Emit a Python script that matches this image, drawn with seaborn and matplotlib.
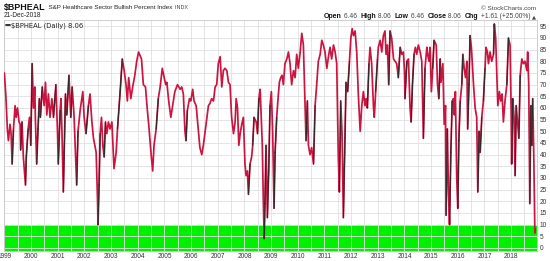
import numpy as np
import pandas as pd
import matplotlib
matplotlib.use("Agg")
import matplotlib.pyplot as plt
import seaborn as sns

# ---- data ----
years = [
    1999.00, 1999.06, 1999.11, 1999.15, 1999.21, 1999.25, 1999.29, 1999.34, 1999.40, 1999.44,
    1999.49, 1999.55, 1999.59, 1999.61, 1999.66, 1999.71, 1999.79, 1999.82, 1999.89, 1999.94,
    1999.99, 2000.04, 2000.09, 2000.14, 2000.16, 2000.21, 2000.26, 2000.31, 2000.35, 2000.42,
    2000.49, 2000.54, 2000.59, 2000.65, 2000.71, 2000.78, 2000.84, 2000.93, 2000.99, 2001.02,
    2001.09, 2001.12, 2001.16, 2001.21, 2001.29, 2001.34, 2001.42, 2001.49, 2001.54, 2001.61,
    2001.71, 2001.76, 2001.84, 2001.94, 2001.99, 2002.06, 2002.15, 2002.21, 2002.28, 2002.34,
    2002.44, 2002.49, 2002.51, 2002.55, 2002.59, 2002.64, 2002.69, 2002.74, 2002.79, 2002.84,
    2002.90, 2002.96, 2003.03, 2003.11, 2003.19, 2003.24, 2003.34, 2003.42, 2003.49, 2003.56,
    2003.61, 2003.66, 2003.74, 2003.81, 2003.89, 2003.96, 2004.03, 2004.14, 2004.21, 2004.29,
    2004.36, 2004.41, 2004.51, 2004.56, 2004.61, 2004.69, 2004.77, 2004.84, 2004.92, 2004.99,
    2005.05, 2005.09, 2005.16, 2005.24, 2005.31, 2005.39, 2005.49, 2005.59, 2005.65, 2005.71,
    2005.77, 2005.81, 2005.86, 2005.94, 2005.99, 2006.06, 2006.11, 2006.19, 2006.27, 2006.33,
    2006.40, 2006.46, 2006.56, 2006.65, 2006.71, 2006.77, 2006.84, 2006.90, 2006.96, 2007.02,
    2007.09, 2007.15, 2007.21, 2007.27, 2007.34, 2007.40, 2007.46, 2007.52, 2007.59, 2007.65,
    2007.69, 2007.74, 2007.79, 2007.84, 2007.90, 2007.96, 2008.02, 2008.06, 2008.11, 2008.15,
    2008.21, 2008.27, 2008.31, 2008.36, 2008.44, 2008.49, 2008.54, 2008.59, 2008.62, 2008.67,
    2008.71, 2008.74, 2008.77, 2008.81, 2008.86, 2008.91, 2008.96, 2009.01, 2009.06, 2009.11,
    2009.15, 2009.21, 2009.26, 2009.31, 2009.36, 2009.41, 2009.46, 2009.52, 2009.59, 2009.65,
    2009.71, 2009.77, 2009.84, 2009.90, 2009.96, 2010.02, 2010.09, 2010.15, 2010.21, 2010.27,
    2010.31, 2010.36, 2010.40, 2010.46, 2010.52, 2010.59, 2010.65, 2010.71, 2010.77, 2010.84,
    2010.90, 2010.96, 2011.02, 2011.09, 2011.15, 2011.21, 2011.27, 2011.34, 2011.40, 2011.46,
    2011.52, 2011.56, 2011.61, 2011.66, 2011.71, 2011.76, 2011.81, 2011.87, 2011.94, 2011.99,
    2012.04, 2012.09, 2012.15, 2012.21, 2012.27, 2012.34, 2012.40, 2012.46, 2012.52, 2012.56,
    2012.61, 2012.67, 2012.71, 2012.77, 2012.84, 2012.87, 2012.92, 2012.99, 2013.02, 2013.09,
    2013.15, 2013.21, 2013.27, 2013.31, 2013.36, 2013.41, 2013.46, 2013.52, 2013.59, 2013.65,
    2013.71, 2013.77, 2013.84, 2013.90, 2013.96, 2014.00, 2014.02, 2014.09, 2014.15, 2014.21,
    2014.25, 2014.30, 2014.36, 2014.41, 2014.46, 2014.52, 2014.59, 2014.65, 2014.71, 2014.77,
    2014.84, 2014.87, 2014.92, 2014.96, 2015.01, 2015.06, 2015.11, 2015.19, 2015.24, 2015.29,
    2015.34, 2015.37, 2015.44, 2015.49, 2015.54, 2015.56, 2015.61, 2015.65, 2015.69, 2015.74,
    2015.79, 2015.84, 2015.87, 2015.91, 2015.96, 2016.00, 2016.04, 2016.09, 2016.15, 2016.19,
    2016.24, 2016.29, 2016.34, 2016.37, 2016.42, 2016.46, 2016.51, 2016.59, 2016.65, 2016.71,
    2016.75, 2016.80, 2016.84, 2016.90, 2016.96, 2017.02, 2017.06, 2017.11, 2017.15, 2017.21,
    2017.27, 2017.34, 2017.37, 2017.42, 2017.46, 2017.50, 2017.56, 2017.61, 2017.66, 2017.71,
    2017.77, 2017.84, 2017.90, 2017.96, 2018.00, 2018.02, 2018.06, 2018.11, 2018.15, 2018.19,
    2018.24, 2018.29, 2018.34, 2018.40, 2018.46, 2018.52, 2018.59, 2018.62, 2018.66, 2018.70,
    2018.74, 2018.77, 2018.81, 2018.85, 2018.89, 2018.90,
]
bpi = [
    75, 64, 51, 46, 53, 49, 36, 51, 61, 56,
    60, 54, 53, 42, 54, 39, 27, 39, 51, 56,
    44, 79, 60, 69, 56, 36, 51, 64, 56, 69,
    61, 71, 57, 66, 56, 64, 56, 70, 50, 36,
    59, 64, 49, 24, 66, 57, 74, 56, 69, 57,
    27, 50, 59, 67, 56, 49, 61, 66, 54, 47,
    41, 21, 10, 27, 49, 56, 44, 39, 54, 49,
    54, 51, 54, 34, 41, 51, 67, 81, 76, 70,
    63, 73, 64, 69, 74, 80, 84, 81, 70, 69,
    59, 53, 39, 33, 44, 51, 64, 69, 77, 73,
    70, 71, 63, 56, 61, 67, 70, 68, 69, 66,
    50, 46, 59, 64, 63, 68, 63, 61, 51, 43,
    40, 44, 53, 61, 62, 64, 63, 69, 70, 79,
    82, 69, 76, 77, 76, 71, 70, 56, 49, 54,
    64, 60, 44, 49, 53, 56, 36, 31, 33, 23,
    36, 39, 44, 56, 54, 49, 64, 68, 59, 44,
    19, 4, 19, 44, 13, 33, 61, 67, 49, 17,
    41, 56, 64, 71, 73, 74, 70, 79, 81, 84,
    79, 70, 76, 73, 83, 77, 84, 92, 87, 63,
    46, 63, 44, 40, 43, 36, 61, 70, 80, 83,
    89, 87, 84, 77, 82, 86, 81, 87, 84, 79,
    39, 24, 63, 49, 13, 41, 71, 67, 80, 90,
    94, 91, 93, 84, 66, 50, 61, 67, 61, 64,
    60, 79, 86, 79, 60, 56, 67, 81, 86, 89,
    84, 91, 93, 83, 87, 70, 93, 90, 81, 80,
    79, 73, 86, 83, 84, 76, 64, 80, 81, 60,
    54, 70, 83, 86, 83, 87, 84, 80, 47, 77,
    86, 83, 80, 86, 67, 77, 89, 87, 70, 64,
    81, 71, 79, 53, 61, 14, 51, 24, 10, 41,
    63, 64, 57, 67, 30, 17, 46, 63, 70, 83,
    77, 73, 80, 51, 70, 91, 86, 70, 60, 56,
    24, 50, 41, 56, 63, 77, 86, 84, 79, 84,
    80, 83, 96, 90, 76, 61, 67, 63, 66, 54,
    63, 70, 90, 87, 59, 36, 64, 56, 31, 61,
    54, 47, 74, 81, 79, 80, 76, 84, 70, 19,
    61, 44, 64, 39, 6.46, 8.06,
]
year_ticks = list(range(1999, 2019))
y_ticks = list(range(0, 100, 5))
oversold_level = 10

# ---- styling ----
W, H = 550, 261
crimson = "#cc1440"
sns.set_style("white")
plt.rcParams['font.family'] = ['Liberation Sans', 'DejaVu Sans']

fig = plt.figure(figsize=(W / 100, H / 100), dpi=100)
ax = fig.add_axes([3.5 / W, 1 - 251 / H, (537 - 3.5) / W, (251 - 20) / H])

df = pd.DataFrame({"year": years, "bpi": bpi})
ax.axhspan(-5, oversold_level, color="#00f000", zorder=0.5, lw=0)
sns.lineplot(data=df, x="year", y="bpi", ax=ax, color=crimson, lw=1.25,
             estimator=None, zorder=3)

# larger rising runs drawn in black
ux, uy = [], []
for i in range(len(years) - 1):
    if bpi[i + 1] - bpi[i] >= 12:
        ux += [years[i], years[i + 1], np.nan]
        uy += [bpi[i], bpi[i + 1], np.nan]
ax.plot(ux, uy, color="#2a2a2a", lw=0.8, zorder=4)

ax.set_xlim(1998.966, 2018.97)
ax.set_ylim(-1.3, 97.7)
ax.set_xlabel("")
ax.set_ylabel("")
ax.yaxis.tick_right()
ax.set_yticks(y_ticks)
ax.set_yticklabels([str(v) for v in y_ticks])
ax.set_xticks(year_ticks)
ax.set_xticklabels([str(y) for y in year_ticks])
ax.set_xticks([y + 0.5 for y in year_ticks], minor=True)
ax.grid(which="both", color="#e0e0e0", lw=0.6, zorder=1)
ax.set_axisbelow(True)
ax.tick_params(axis="both", which="both", length=0, labelsize=4.7, colors="#333333")
ax.tick_params(axis="x", pad=1.5)
ax.tick_params(axis="y", pad=2.0)
for s in ax.spines.values():
    s.set_color("#c8c8c8")
    s.set_linewidth(0.6)

# ---- header texts ----
fig.canvas.draw()
renderer = fig.canvas.get_renderer()


def px(x, y):
    return x / W, 1 - y / H


def seq_text(x, y, pieces, align="left"):
    arts = []
    for t, kw in pieces:
        a = fig.text(0, 0, t, va="center", ha="left", **kw)
        arts.append(a)
    widths = [a.get_window_extent(renderer).width for a in arts]
    total = sum(widths)
    cur = x - total if align == "right" else x
    for a, w in zip(arts, widths):
        a.set_position(px(cur, y))
        cur += w
    return arts


seq_text(3.5, 7.5, [("$BPHEAL", dict(fontsize=6.4, fontweight="bold", color="#111111")),
                    ("  S&P Healthcare Sector Bullish Percent Index", dict(fontsize=4.5, color="#222222")),
                    ("  INDX", dict(fontsize=3.9, color="#444444"))])
fig.text(*px(3.5, 15.5), "21-Dec-2018", fontsize=4.7, color="#222222", va="center", ha="left")
fig.text(*px(536, 9), "\u00a9 StockCharts.com", fontsize=4.6, color="#444444", va="center", ha="right")
b = dict(fontsize=5.0, fontweight="bold", color="#111111")
n = dict(fontsize=4.8, color="#444444")
seq_text(536, 17, [("Open", b), (" 6.46  ", n), ("High", b), (" 8.06  ", n),
                   ("Low", b), (" 6.46  ", n), ("Close", b), (" 8.06  ", n),
                   ("Chg", b), (" +1.61 (+25.00%) ", n),
                   ("\u25b2", dict(fontsize=3.8, color="#444444", family="DejaVu Sans"))],
         align="right")

# legend inside plot
ax.plot([0.004, 0.012], [0.977, 0.977], transform=ax.transAxes, color="#222222", lw=1.3, zorder=6)
ax.text(0.014, 0.977, "$BPHEAL (Daily) 8.06", transform=ax.transAxes, fontsize=4.9,
        color="#222222", va="center", ha="left", family="DejaVu Sans", zorder=6)

fig.savefig("out.png", dpi=100)
